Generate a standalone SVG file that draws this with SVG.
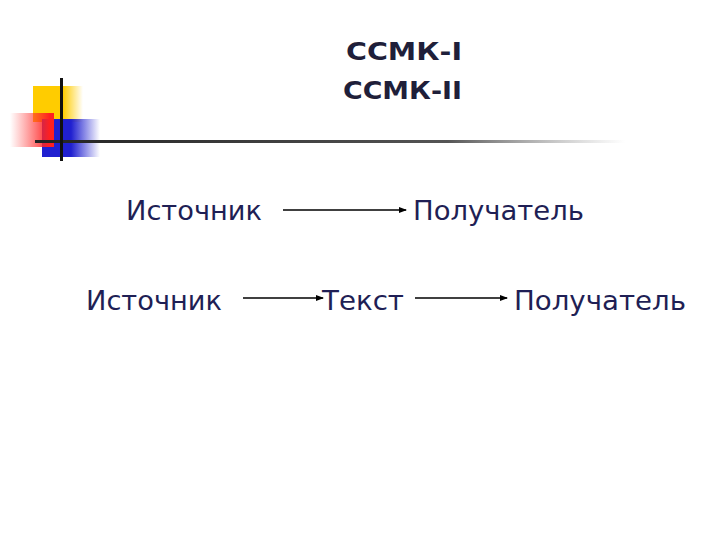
<svg xmlns="http://www.w3.org/2000/svg" width="720" height="540" viewBox="0 0 720 540">
<style>
.t{font-family:"DejaVu Sans","Liberation Sans",sans-serif;font-size:27px;fill:#1f1f55}
.h{font-family:"DejaVu Sans","Liberation Sans",sans-serif;font-size:24px;font-weight:bold;fill:#1f1f3a}
.c{stroke:#000;stroke-width:1.6;fill:none;marker-end:url(#a)}
</style>
<defs>
<marker id="a" markerWidth="8" markerHeight="8" refX="7" refY="4" orient="auto" markerUnits="userSpaceOnUse"><path d="M0,1 L8,4 L0,7z" fill="#000"/></marker>
<linearGradient id="y" x1="0" x2="1"><stop offset="0.6" stop-color="#ffcc00"/><stop offset="1" stop-color="#ffcc00" stop-opacity="0"/></linearGradient>
<linearGradient id="r" x1="1" x2="0"><stop offset="0.1" stop-color="#ff2020"/><stop offset="1" stop-color="#ff4040" stop-opacity="0"/></linearGradient>
<linearGradient id="b" x1="0" x2="1"><stop offset="0.5" stop-color="#2020d0"/><stop offset="1" stop-color="#2020d0" stop-opacity="0"/></linearGradient>
<linearGradient id="l" x1="0" x2="1"><stop offset="0" stop-color="#222"/><stop offset="0.7" stop-color="#555"/><stop offset="1" stop-color="#888" stop-opacity="0"/></linearGradient>
</defs>
<g id="decor">
<rect x="33" y="86" width="50" height="36" fill="url(#y)"/>
<rect x="42" y="119" width="58" height="38" fill="url(#b)"/>
<rect x="10" y="113" width="44" height="34" fill="url(#r)"/>
<rect x="35" y="140" width="590" height="3" fill="url(#l)"/>
<rect x="60" y="78" width="3" height="83" fill="#111"/>
</g>
<g id="title"><text class="h" x="346" y="60" textLength="116" lengthAdjust="spacingAndGlyphs">ССМК-I</text><text class="h" x="343" y="99" textLength="119" lengthAdjust="spacingAndGlyphs">ССМК-II</text></g>
<g id="n1"><text class="t" x="126" y="220" textLength="136" lengthAdjust="spacingAndGlyphs">Источник</text></g>
<g id="n2"><text class="t" x="413" y="220" textLength="171" lengthAdjust="spacingAndGlyphs">Получатель</text></g>
<g id="n3"><text class="t" x="86" y="310" textLength="136" lengthAdjust="spacingAndGlyphs">Источник</text></g>
<g id="n4"><text class="t" x="322" y="310" textLength="82" lengthAdjust="spacingAndGlyphs">Текст</text></g>
<g id="n5"><text class="t" x="514" y="310" textLength="172" lengthAdjust="spacingAndGlyphs">Получатель</text></g>
<g id="connectors">
<line class="c" x1="283" y1="210" x2="406" y2="210"/>
<line class="c" x1="243" y1="298" x2="323" y2="298"/>
<line class="c" x1="415" y1="298" x2="507" y2="298"/>
</g>
</svg>
